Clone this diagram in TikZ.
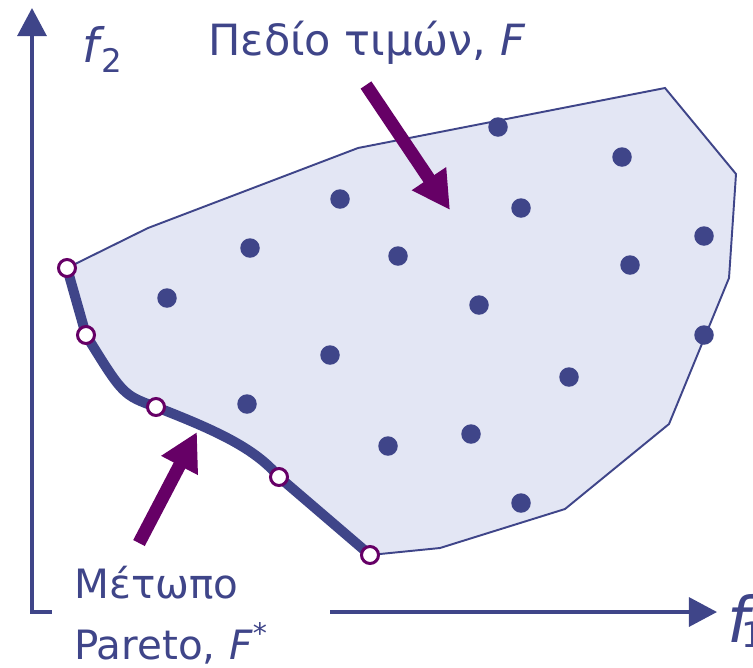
\documentclass[tikz,border=0pt]{standalone}
\usepackage{fontspec}
\setmainfont{DejaVu Sans}
\usepackage{tikz}
\usetikzlibrary{arrows.meta}
\definecolor{ParNavy}{RGB}{63,69,137}
\definecolor{ParFill}{RGB}{227,230,244}
\definecolor{ParPurple}{RGB}{102,0,102}

\tikzset{
  axis/.style={ParNavy, line width=2pt,
    {Triangle[length=16pt,width=16.5pt]}-{Triangle[length=16pt,width=16.5pt]}},
  region/.style={fill=ParFill, draw=ParNavy, line width=1.1pt},
  front/.style={ParNavy, line width=5.7pt},
  dot/.style={circle, fill=ParNavy, inner sep=0pt, minimum size=0.39cm},
  opendot/.style={circle, draw=ParPurple, fill=white, line width=1.7pt,
    inner sep=0pt, minimum size=0.34cm},
  pointer/.style={ParPurple, line width=7.4pt,
    -{Triangle[length=21.5pt,width=22pt]}},
  lbl/.style={text=ParNavy}
}

\begin{document}
\begin{tikzpicture}[x=0.02cm, y=-0.02cm]
  \useasboundingbox (0,0) rectangle (753,667);

  % axes
  \coordinate (ytop) at (32,8);
  \coordinate (origin) at (32,612);
  \coordinate (xend) at (717,612);
  \draw[axis] (ytop) -- (origin) -- (xend);

  % Pareto points
  \coordinate (p1) at (67,268);
  \coordinate (p2) at (86,335);
  \coordinate (p3) at (156,407);
  \coordinate (p4) at (279,477);
  \coordinate (p5) at (370,555);

  % feasible region
  \draw[region] (p1) -- (148,228) -- (358,148) -- (665,88) -- (736,174)
        -- (729,278) -- (669,424) -- (565,509) -- (440,548) -- (p5)
        -- (p4) .. controls (255,448) and (215,430) .. (p3)
        .. controls (123,395) .. (p2) -- cycle;
  \draw[front] (p1) -- (p2) .. controls (123,395) .. (p3)
        .. controls (215,430) and (255,448) .. (p4) -- (p5);

  \foreach \x/\y [count=\i] in {498/127, 622/157, 340/199, 521/208, 704/236,
      250/248, 398/256, 630/265, 167/298, 479/305, 704/335, 330/355,
      569/377, 247/404, 388/446, 471/434, 521/503} {
    \node[dot] (d\i) at (\x,\y) {};
  }
  \foreach \i in {1,...,5} {
    \node[opendot] (o\i) at (p\i) {};
  }

  % labels
  \node[lbl, anchor=base, font=\fontsize{24.5}{30}\selectfont] (fieldlbl)
        at (367,55) {Πεδίο τιμών, \textit{F}};
  \node[lbl, fill=white, anchor=west, align=left, text width=4.68cm,
        inner xsep=0.44cm, inner ysep=2pt, font=\fontsize{23}{35}\selectfont]
        (frontlbl) at (52,615) {Μέτωπο\\Pareto, \textit{F}\textsuperscript{*}};
  \node[lbl, anchor=base west, inner sep=0pt, font=\fontsize{27}{27}\selectfont]
        (f2lbl) at (82,62)
        {\textit{f}\kern-2pt\raisebox{-5.7pt}{\fontsize{18.5}{18.5}\selectfont 2}};
  \node[lbl, anchor=base west, inner sep=0pt, font=\fontsize{36}{36}\selectfont]
        (f1lbl) at (727,642)
        {\textit{f}\kern-9pt\raisebox{-3.4pt}{\fontsize{20}{20}\selectfont 1}};

  % pointers
  \coordinate (fieldtail) at (366,85);
  \coordinate (fieldtip) at (450,210);
  \draw[pointer] (fieldtail) -- (fieldtip);
  \coordinate (fronttail) at (139,543);
  \coordinate (fronttip) at (197,432);
  \draw[pointer] (fronttail) -- (fronttip);
\end{tikzpicture}
\end{document}
